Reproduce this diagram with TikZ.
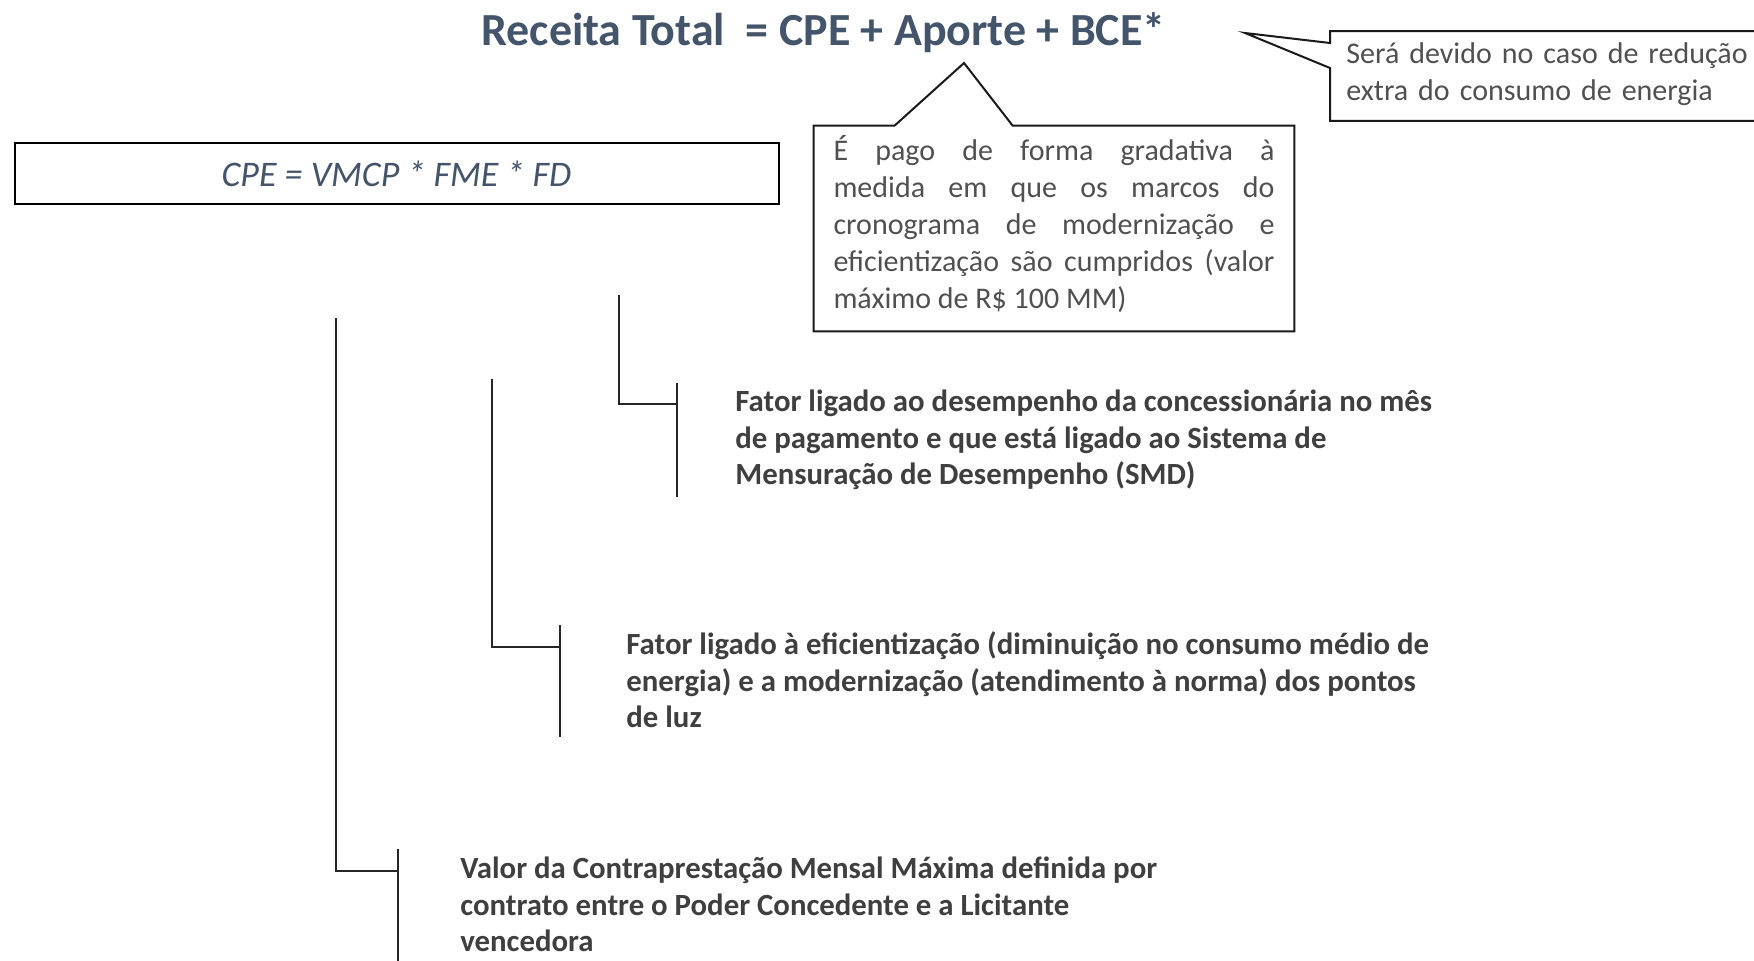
\documentclass[tikz,border=0pt]{standalone}
\usepackage{fontspec}
\setmainfont{Carlito}
\usetikzlibrary{calc, positioning}
\definecolor{TitleBlue}{HTML}{44546A}
\definecolor{FatorGray}{HTML}{3F3F3F}
\definecolor{NotaGray}{HTML}{505050}
\newcommand{\semhifen}{\hyphenpenalty=10000\relax\tolerance=10000\relax}
\tikzset{
    fator/.style={anchor=north west, inner sep=0pt, align=left, text=FatorGray, font=\fontsize{15.4}{18.25}\selectfont\bfseries},
    nota/.style={inner ysep=0pt, text=NotaGray, font=\fontsize{15}{18.5}\selectfont},
    braco/.style={line width=1pt, black!85},
    balao/.style={line width=1pt, black!90}
}

\begin{document}
\begin{tikzpicture}[x=0.5pt, y=-0.5pt]
  \useasboundingbox (0,0) rectangle (1754,960);

  % titulo
  \node[anchor=base west, inner sep=0pt, text=TitleBlue, font=\fontsize{23}{27}\selectfont\bfseries] (receita) at (481,45) {Receita Total\ \ = CPE + Aporte + BCE*};

  % formula do CPE
  \node[draw, line width=1pt, minimum width=382pt, minimum height=30.5pt, inner sep=0pt, text=TitleBlue, font=\fontsize{18}{20}\selectfont\itshape] (cpe) at (396.5,173.5) {CPE = VMCP * FME * FD};

  % balao do aporte
  \node[nota, text width=220.5pt, inner xsep=9.75pt, align=justify, minimum height=102.5pt] (aporte) at (1054,228.5) {\semhifen É pago de forma gradativa à\linebreak medida em que os marcos do\linebreak cronograma de modernização e\linebreak eficientização são cumpridos (valor\linebreak máximo de R\$ 100 MM)\par\vspace{4pt}};
  \coordinate (aporteTip) at (964,63);
  \draw[balao] (aporte.north west) -- ($(aporte.north west)+(81,0)$) -- (aporteTip) -- ($(aporte.north west)+(199,0)$) -- (aporte.north east) -- (aporte.south east) -- (aporte.south west) -- cycle;

  % balao do BCE
  \node[nota, anchor=north west, text width=204pt, inner xsep=8pt, align=left, minimum height=44.5pt] (bce) at (1330,31) {Será devido no caso de redução\\extra do consumo de energia\par\vspace{2pt}};
  \coordinate (bceTip) at (1245,33);
  \draw[balao] (bce.north west) -- ($(bce.north west)+(0,12)$) -- (bceTip) -- ($(bce.north west)+(0,37)$) -- (bce.south west) -- (bce.south east) -- (bce.north east) -- cycle;

  % FD
  \node[fator] (fd) at (735,389.5) {Fator ligado ao desempenho da concessionária no mês\\de pagamento e que está ligado ao Sistema de\\Mensuração de Desempenho (SMD)};
  \coordinate (fdTop) at (619,295);
  \coordinate (fdHook) at (677,404);
  \draw[braco] (fdTop) |- (fdHook);
  \draw[braco] ($(fd.north west)+(-58,-6.5)$) -- ($(fd.north west)+(-58,107.5)$);

  % FME
  \node[fator] (fme) at (626,631.5) {Fator ligado à eficientização (diminuição no consumo médio de\\energia) e a modernização (atendimento à norma) dos pontos\\de luz};
  \coordinate (fmeTop) at (492,379);
  \coordinate (fmeHook) at (560,647);
  \draw[braco] (fmeTop) |- (fmeHook);
  \draw[braco] ($(fme.north west)+(-66,-6.5)$) -- ($(fme.north west)+(-66,105.5)$);

  % VMCP
  \node[fator] (vmcp) at (460,856.5) {Valor da Contraprestação Mensal Máxima definida por\\contrato entre o Poder Concedente e a Licitante\\vencedora};
  \coordinate (vmcpTop) at (336,318);
  \coordinate (vmcpHook) at (398,871);
  \draw[braco] (vmcpTop) |- (vmcpHook);
  \draw[braco] ($(vmcp.north west)+(-62,-7.5)$) -- ($(vmcp.north west)+(-62,107.5)$);
\end{tikzpicture}
\end{document}
